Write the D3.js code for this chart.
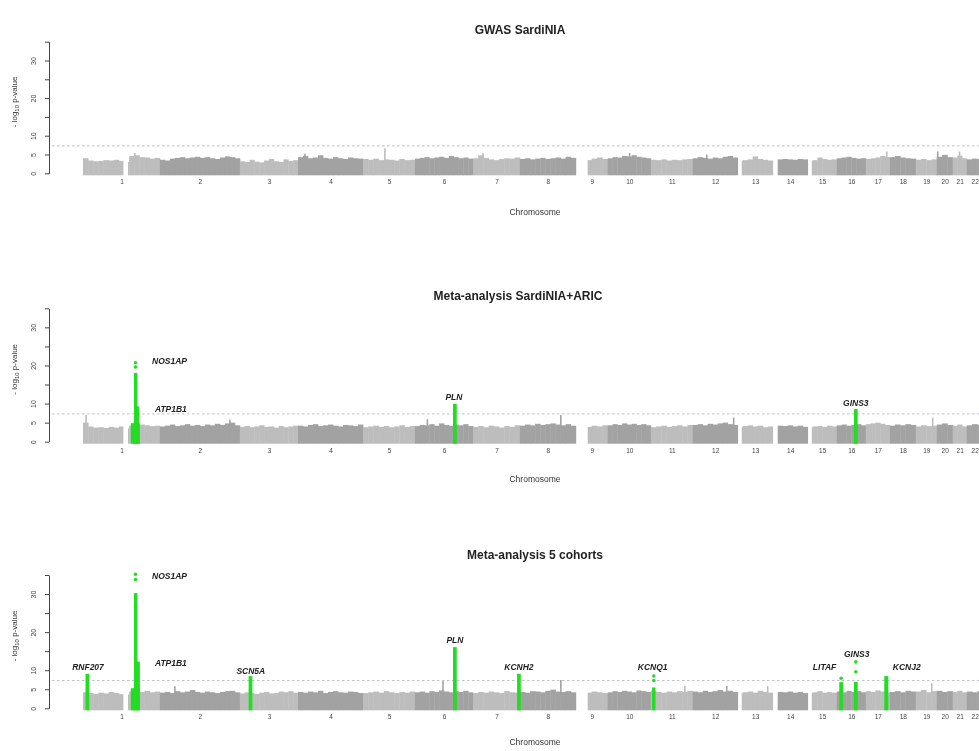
<!DOCTYPE html>
<html>
<head>
<meta charset="utf-8">
<script src="https://cdn.jsdelivr.net/npm/d3@7.9.0/dist/d3.min.js"></script>
<style>
  body { margin: 0; background: #fff; }
  svg { display: block; font-family: "Liberation Sans", Arial, sans-serif; filter: blur(0.35px); }
</style>
</head>
<body>
<svg id="viz" width="979" height="751"></svg>
<script>
// chromosome layout (Mb)
const chromosomes = ["1","2","3","4","5","6","7","8","9","10","11","12","13","14","15","16","17","18","19","20","21","22"];
const chromLengthMb = [246,256,186,208,166,186,150,179,102,138,134,144,112,112,93,93,77,83,67,51,45,51];
// stretches with no SNPs: [chr, from, to] in Mb within the chromosome
const noSnpGaps = [[1,128,144],[9,0,38],[13,0,13],[14,0,16],[15,0,13]];

const yTicks = [0,5,10,15,20,25,30,35];
const yTickLabels = [0,5,10,20,30];
const gwThreshold = 7.3;

const titles = ["GWAS SardiNIA", "Meta-analysis SardiNIA+ARIC", "Meta-analysis 5 cohorts"];

// upper envelope of the grey SNP cloud, -log10 p, one list per chromosome
const bgGwas = [
  [4.0,3.4,3.2,3.3,3.5,3.4,3.6,3.3,3.0,4.6,4.8,4.3,4.2,3.9,4.1],
  [3.6,3.4,3.9,4.1,4.3,4.0,4.2,4.4,4.1,4.3,4.0,3.8,4.2,4.5,4.3,4.0],
  [3.2,3.0,3.6,3.1,2.9,3.4,3.8,3.2,3.0,3.7,3.3,3.5],
  [4.3,4.6,4.0,4.2,4.8,4.1,3.9,4.3,4.0,3.8,4.2,4.0,3.9],
  [3.8,3.6,3.9,3.5,3.7,3.6,3.4,3.8,3.5,3.6],
  [3.9,4.1,4.3,4.0,4.2,4.4,4.1,4.6,4.3,4.0,4.2,3.9],
  [4.0,4.8,4.1,3.7,3.5,3.8,4.0,3.9,4.2],
  [3.8,4.0,3.7,3.9,4.1,3.8,4.0,4.2,3.9,4.4,4.1],
  [3.6,3.6,3.5,3.9,4.2,3.8],
  [4.0,4.3,4.2,4.6,4.5,4.8,4.4,4.2,4.0],
  [3.6,3.5,3.7,3.4,3.6,3.5,3.7,3.8],
  [4.0,4.3,4.1,3.9,4.2,4.0,4.4,4.6,4.2],
  [3.3,3.5,3.7,4.5,3.8,3.6,3.4],
  [3.6,3.7,3.8,3.7,3.6,3.8,3.7],
  [3.3,3.5,4.2,3.8,3.6,3.7],
  [4.0,4.2,4.4,4.1,3.9,4.0],
  [3.8,4.0,4.2,4.6,4.3],
  [4.3,4.6,4.2,4.0,3.9],
  [3.6,3.8,3.5,3.7],
  [4.4,4.9,4.3],
  [4.2,4.7,4.0],
  [3.7,3.9,3.8]
];
const bgAric = [
  [5.0,4.0,3.7,3.8,3.6,3.9,3.7,4.0,3.5,4.2,4.4,4.5,4.3,4.1,4.2],
  [4.0,4.2,4.5,4.1,4.3,4.6,4.2,4.4,4.1,4.5,4.3,4.7,4.4,4.8,5.0,4.3],
  [3.9,4.1,3.8,4.0,4.3,3.9,4.0,3.7,4.1,3.8,4.0,4.2],
  [4.2,4.0,4.4,4.6,4.1,4.3,4.5,4.2,4.0,4.4,4.3,4.1,4.5],
  [3.8,4.0,4.2,3.9,4.1,3.8,4.0,4.3,3.9,4.1],
  [4.1,4.4,4.3,4.6,4.2,4.8,4.4,4.2,4.5,4.3,4.6,4.1],
  [3.9,4.1,3.8,4.2,4.0,3.7,4.1,3.9,4.3],
  [4.2,4.5,4.3,4.7,4.4,4.6,4.8,4.5,4.3,4.6,4.2],
  [4.0,4.0,3.9,4.2,4.0,4.3],
  [4.3,4.6,4.4,4.8,4.5,4.7,4.4,4.6,4.3],
  [3.8,4.0,4.2,3.9,4.1,4.3,4.0,4.4],
  [4.4,4.6,4.3,4.7,4.5,4.8,5.0,4.6,4.4],
  [3.9,4.1,4.3,4.0,4.2,3.8,4.0],
  [4.0,4.2,4.1,4.3,4.0,4.2,3.9],
  [3.8,4.0,4.1,3.9,4.2,4.0],
  [4.3,4.5,4.2,4.4,4.6,4.3],
  [4.6,4.8,5.0,4.7,4.4],
  [4.2,4.5,4.3,4.6,4.4],
  [4.0,4.3,4.1,4.2],
  [4.5,4.8,4.4],
  [4.2,4.5,4.0],
  [4.3,4.6,4.4]
];
const bgFive = [
  [4.2,4.0,3.8,4.1,3.9,4.3,4.0,3.7,3.6,4.4,4.5,4.3,4.6,4.2,4.4],
  [4.1,4.3,4.0,4.5,4.2,4.4,4.8,4.3,4.1,4.4,4.2,4.0,4.3,4.5,4.6,4.2],
  [3.9,4.2,4.0,3.8,4.1,4.3,3.9,4.0,4.4,4.2,4.5,4.1],
  [4.3,4.1,4.4,4.2,4.6,4.0,4.3,4.5,4.2,4.1,4.4,4.3,4.0],
  [4.0,4.2,4.4,4.1,4.5,4.2,4.0,4.3,4.1,4.4],
  [4.2,4.4,4.1,4.5,4.3,4.7,4.4,4.2,4.5,4.3,4.6,4.2],
  [4.0,4.3,4.1,4.4,4.2,4.0,4.5,4.2,4.1],
  [4.3,4.1,4.5,4.4,4.2,4.6,4.9,4.4,4.3,4.5,4.2],
  [4.0,4.0,4.1,4.4,4.2,4.0],
  [4.2,4.5,4.3,4.6,4.4,4.2,4.7,4.5,4.3],
  [4.6,4.3,4.1,4.4,4.2,4.5,4.3,4.6],
  [4.4,4.2,4.6,4.3,4.5,4.8,4.4,4.6,4.3],
  [4.0,4.2,4.4,4.1,4.6,4.3,4.1],
  [4.1,4.3,4.2,4.4,4.1,4.3,4.0],
  [4.0,4.2,4.5,4.1,4.3,4.1],
  [4.4,4.2,4.6,4.3,4.5,4.2],
  [4.5,4.3,4.7,4.4,4.2],
  [4.3,4.5,4.2,4.6,4.4],
  [4.4,4.8,4.2,4.5],
  [4.6,4.3,4.5],
  [4.3,4.6,4.2],
  [4.4,4.2,4.5]
];

// isolated grey SNPs sticking out of the cloud: [chr, Mb, -log10 p]
const spikesGwas = [[1,166,5.4],[4,22,5.2],[5,70,6.6],[7,32,5.3],[10,70,5.4],[12,45,5.0],[17,67,5.8],[20,3,5.8],[21,22,5.8]];
const spikesAric = [[1,10,7.0],[2,224,5.8],[6,40,5.9],[8,131,7.0],[12,131,6.3],[19,54,6.3]];
const spikesFive = [[2,48,5.8],[6,90,7.2],[8,131,7.4],[11,109,5.9],[12,109,5.9],[13,96,5.8],[19,51,6.6]];

// green loci: [chr, from Mb, to Mb, top -log10 p]
const hitsGwas = [];
const hitsAric = [
  [1,153,182,4.6],[1,163,174,17.8],[1,172,180,9.0],
  [6,122,134,9.7],
  [16,55,67,8.3]
];
const hitsFive = [
  [1,8,20,8.8],
  [1,153,182,5.0],[1,163,174,30.0],[1,172,182,12.0],
  [3,28,40,8.2],
  [6,122,134,15.8],
  [7,141,153,8.8],
  [11,4,15,5.2],
  [16,8,20,6.6],
  [16,55,67,6.7],
  [17,59,72,8.2]
];
// single green SNPs above the columns: [chr, Mb, -log10 p]
const dotsGwas = [];
const dotsAric = [[1,168,19.6],[1,168,20.7]];
const dotsFive = [[1,168,33.8],[1,168,35.2],[11,9.6,7.3],[11,9.6,8.5],[16,14,7.9],[16,61,9.6],[16,61,12.2]];

// gene labels: [gene, chr, Mb, -log10 p, anchor]
const genesGwas = [];
const genesAric = [
  ["NOS1AP",1,221,20.9,"start"],["ATP1B1",1,230,8.3,"start"],
  ["PLN",6,125,11.5,"middle"],["GINS3",16,61,9.9,"middle"]
];
const genesFive = [
  ["RNF207",1,16,10.6,"middle"],["NOS1AP",1,221,34.5,"start"],["ATP1B1",1,230,11.6,"start"],
  ["SCN5A",3,35,9.5,"middle"],["PLN",6,128,17.7,"middle"],["KCNH2",7,147,10.6,"middle"],
  ["KCNQ1",11,6,10.6,"middle"],["LITAF",15,54,10.6,"middle"],["GINS3",16,64,14.0,"middle"],
  ["KCNJ2",18,54,10.6,"middle"]
];

const svg = d3.select("#viz");
const W = 979;

const chromStart = [0, ...d3.cumsum(chromLengthMb)].slice(0, chromLengthMb.length);
const totalMb = d3.sum(chromLengthMb);
const x = d3.scaleLinear().domain([0, totalMb]).range([83, 83 + totalMb / 3.2]);
const gx = (chr, mb) => x(chromStart[chr - 1] + mb);

const light = "#bdbdbd", dark = "#a2a2a2", green = "#22dd22";

const panels = [
  { title: titles[0], titleX: 520, titleY: 31, y0: 173.3, y35: 41.7, xLabY: 213, bg: bgGwas, spikes: spikesGwas, hits: hitsGwas, dots: dotsGwas, genes: genesGwas },
  { title: titles[1], titleX: 518, titleY: 297, y0: 441.7, y35: 308.3, xLabY: 480, bg: bgAric, spikes: spikesAric, hits: hitsAric, dots: dotsAric, genes: genesAric },
  { title: titles[2], titleX: 535, titleY: 556, y0: 708.3, y35: 575, xLabY: 743, bg: bgFive, spikes: spikesFive, hits: hitsFive, dots: dotsFive, genes: genesFive }
];

// split a bin [a,b] around the no-SNP stretches of its chromosome
function trimGaps(chr, a, b) {
  let pieces = [[a, b]];
  noSnpGaps.filter(g => g[0] === chr).forEach(([, g0, g1]) => {
    pieces = pieces.flatMap(([p0, p1]) => {
      if (g1 <= p0 || g0 >= p1) return [[p0, p1]];
      const out = [];
      if (p0 < g0) out.push([p0, g0]);
      if (g1 < p1) out.push([g1, p1]);
      return out;
    });
  });
  return pieces;
}

function drawPanel(p) {
  const y = d3.scaleLinear().domain([0, 35]).range([p.y0, p.y35]);
  const g = svg.append("g");

  // title
  g.append("text")
    .attr("x", p.titleX).attr("y", p.titleY)
    .attr("text-anchor", "middle").attr("dominant-baseline", "middle")
    .attr("font-size", 12).attr("font-weight", "bold").attr("fill", "#222")
    .text(p.title);

  // grey cloud
  const bins = [];
  p.bg.forEach((hs, ci) => {
    const chr = ci + 1, L = chromLengthMb[ci], w = L / hs.length;
    hs.forEach((h, j) => {
      trimGaps(chr, j * w, (j + 1) * w).forEach(([a, b]) => bins.push({ chr, a, b, h }));
    });
  });
  g.append("g").selectAll("rect")
    .data(bins)
    .join("rect")
    .attr("x", d => gx(d.chr, d.a))
    .attr("width", d => gx(d.chr, d.b) - gx(d.chr, d.a) + 0.4)
    .attr("y", d => y(d.h))
    .attr("height", d => y(0) + 2 - y(d.h))
    .attr("fill", d => d.chr % 2 ? light : dark);

  g.append("g").selectAll("line")
    .data(p.spikes)
    .join("line")
    .attr("x1", d => gx(d[0], d[1])).attr("x2", d => gx(d[0], d[1]))
    .attr("y1", y(3.5)).attr("y2", d => y(d[2]))
    .attr("stroke", d => d[0] % 2 ? light : dark).attr("stroke-width", 1.6);

  // genome-wide significance line
  g.append("line")
    .attr("x1", 52).attr("x2", W)
    .attr("y1", y(gwThreshold)).attr("y2", y(gwThreshold))
    .attr("stroke", "#b9b9cc").attr("stroke-width", 0.9).attr("stroke-dasharray", "2.5,2.5");

  // green loci
  g.append("g").selectAll("rect")
    .data(p.hits)
    .join("rect")
    .attr("x", d => gx(d[0], d[1]))
    .attr("width", d => gx(d[0], d[2]) - gx(d[0], d[1]))
    .attr("y", d => y(d[3]) - 1)
    .attr("height", d => y(0) + 3 - y(d[3]))
    .attr("fill", green);

  g.append("g").selectAll("circle")
    .data(p.dots)
    .join("circle")
    .attr("cx", d => gx(d[0], d[1]))
    .attr("cy", d => y(d[2]))
    .attr("r", 1.8)
    .attr("fill", green);

  g.append("g").selectAll("text")
    .data(p.genes)
    .join("text")
    .attr("x", d => gx(d[1], d[2]))
    .attr("y", d => y(d[3]))
    .attr("text-anchor", d => d[4])
    .attr("dominant-baseline", "middle")
    .attr("font-size", 8.5).attr("font-weight", "bold").attr("font-style", "italic")
    .attr("fill", "#222")
    .text(d => d[0]);

  // y axis
  const ya = g.append("g")
    .attr("transform", "translate(49,0)")
    .call(d3.axisLeft(y).tickValues(yTicks).tickSize(4).tickSizeOuter(0)
      .tickFormat(d => yTickLabels.includes(d) ? d : ""));
  ya.select(".domain").attr("stroke", "#444");
  ya.selectAll(".tick line").attr("stroke", "#444");
  ya.selectAll(".tick text")
    .attr("transform", "rotate(-90)")
    .attr("x", 0).attr("y", -13).attr("dy", 0)
    .attr("text-anchor", "middle")
    .attr("font-size", 7).attr("fill", "#444");

  const yt = g.append("text")
    .attr("transform", `translate(17,${y(19)}) rotate(-90)`)
    .attr("text-anchor", "middle")
    .attr("font-size", 8).attr("fill", "#333");
  yt.append("tspan").text("- log");
  yt.append("tspan").attr("font-size", 6).attr("dy", 2).text("10");
  yt.append("tspan").attr("dy", -2).text(" p-value");

  // x axis: chromosome names at chromosome centres
  const mids = chromLengthMb.map((L, i) => chromStart[i] + L / 2);
  const xa = g.append("g")
    .attr("transform", `translate(0,${y(0) + 6.5})`)
    .call(d3.axisBottom(x).tickValues(mids).tickSize(0).tickPadding(0)
      .tickFormat((d, i) => chromosomes[i]));
  xa.select(".domain").remove();
  xa.selectAll(".tick text").attr("font-size", 6.5).attr("fill", "#444");

  g.append("text")
    .attr("x", 535).attr("y", p.xLabY)
    .attr("text-anchor", "middle").attr("dominant-baseline", "middle")
    .attr("font-size", 8.5).attr("fill", "#333")
    .text("Chromosome");
}

panels.forEach(drawPanel);
</script>
</body>
</html>
